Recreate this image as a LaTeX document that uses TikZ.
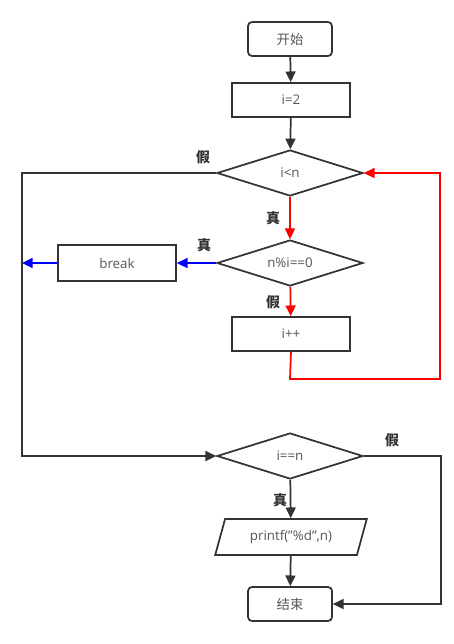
\documentclass[tikz,border=0pt]{standalone}
\usepackage{fontspec}
\setmainfont{Open Sans}
\newfontfamily\cjk{Noto Sans CJK SC}
\usetikzlibrary{shapes.geometric,arrows.meta}
\definecolor{flowLine}{RGB}{51,51,51}
\definecolor{flowText}{RGB}{85,85,85}
\definecolor{loopRed}{RGB}{255,0,0}
\definecolor{breakBlue}{RGB}{0,0,255}

\begin{document}
\begin{tikzpicture}[x=0.75pt,y=-0.75pt,
  >={Triangle[length=8pt,width=7.5pt]},
  every node/.style={text=flowText,font=\fontsize{10}{12}\selectfont},
  term/.style={draw=flowLine,line width=1.3pt,rounded corners=3pt,minimum width=63pt,minimum height=25.5pt},
  proc/.style={draw=flowLine,line width=1.3pt,minimum width=88.5pt,minimum height=25.5pt},
  cond/.style={draw=flowLine,line width=1.3pt,diamond,aspect=3.2,minimum width=109.5pt,minimum height=34.5pt,inner sep=0pt},
  io/.style={draw=flowLine,line width=1.3pt,trapezium,trapezium left angle=73,trapezium right angle=107,trapezium stretches=true,minimum width=114pt,minimum height=27pt},
  yesno/.style={font=\fontsize{10.5}{12}\selectfont\cjk\bfseries,text=flowLine},
  line/.style={draw=flowLine,line width=1.3pt}]
            \useasboundingbox (0,0) rectangle (454,644);

            % main column
            \node[term] (start) at (290,39) {\cjk 开始};
            \node[proc] (init) at (291,100) {i=2};
            \node[cond] (test) at (290,173) {i<n};
            \node[cond] (mod) at (290,263) {n\%i==0};
            \node[proc] (inc) at (291,334) {i++};
            \node[proc,minimum height=27pt] (brk) at (117,263) {break};
            \node[cond] (check) at (290,456) {i==n};
            \node[io] (out) at (291,537) {printf(\char"22\%d\char"22,n)};
            \node[term] (stop) at (290,604) {\cjk 结束};

            % branch labels
            \node[yesno] (f1) at (203,157) {假};
            \node[yesno] (t1) at (273,218) {真};
            \node[yesno] (t2) at (204,245) {真};
            \node[yesno] (f2) at (273,302) {假};
            \node[yesno] (f3) at (392,440) {假};
            \node[yesno] (t3) at (280,500) {真};

            % corner points
            \coordinate (loopA) at (290,379);
            \coordinate (loopB) at (440,379);
            \coordinate (loopC) at (440,173);
            \coordinate (exitA) at (22,173);
            \coordinate (exitB) at (22,456);
            \coordinate (brkEnd) at (22,263);
            \coordinate (skipA) at (441,456);
            \coordinate (skipB) at (441,604);

            \draw[->,line] (start) -- (init);
            \draw[->,line] (init) -- (test);
            \draw[->,line width=1.3pt,loopRed] (test) -- (mod);
            \draw[->,line width=1.3pt,loopRed] (mod) -- (inc);
            \draw[->,line width=1.3pt,loopRed] (inc.south) -- (loopA) -- (loopB) -- (loopC) -- (test.east);
            \draw[->,line width=1.3pt,breakBlue] (mod.west) -- (brk.east);
            \draw[->,line width=1.3pt,breakBlue] (brk.west) -- (brkEnd);
            \draw[->,line] (test.west) -- (exitA) -- (exitB) -- (check.west);
            \draw[->,line] (check) -- (out);
            \draw[->,line] (out) -- (stop);
            \draw[->,line] (check.east) -- (skipA) -- (skipB) -- (stop.east);
        \end{tikzpicture}
\end{document}
